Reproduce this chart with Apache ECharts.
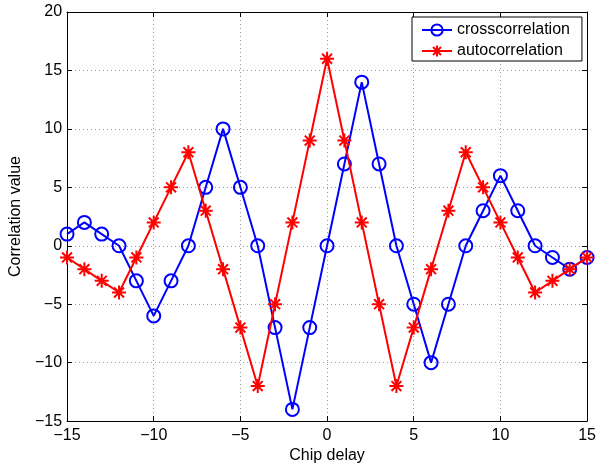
<!DOCTYPE html>
<html><head><meta charset="utf-8">
<script src="https://cdn.jsdelivr.net/npm/echarts@6/dist/echarts.min.js"></script>
<style>html,body{margin:0;padding:0;background:#fff}#c{width:599px;height:469px}</style>
</head><body><div id="c"></div>
<script>
const chipDelay = [-15,-14,-13,-12,-11,-10,-9,-8,-7,-6,-5,-4,-3,-2,-1,0,1,2,3,4,5,6,7,8,9,10,11,12,13,14,15];
const crossCorr = [1,2,1,0,-3,-6,-3,0,5,10,5,0,-7,-14,-7,0,7,14,7,0,-5,-10,-5,0,3,6,3,0,-1,-2,-1];
const autoCorr = [-1,-2,-3,-4,-1,2,5,8,3,-2,-7,-12,-5,2,9,16,9,2,-5,-12,-7,-2,3,8,5,2,-1,-4,-3,-2,-1];
const seriesNames = ['crosscorrelation','autocorrelation'];
const xTicks = {min:-15, max:15, step:5};
const yTicks = {min:-15, max:20, step:5};

const FONT = '"Liberation Sans", Arial, Helvetica, sans-serif';
const fmt = v => String(v).replace('-', '\u2212');
const star = 'path://M0,-1L0,1M-1,0L1,0M-0.7071,-0.7071L0.7071,0.7071M-0.7071,0.7071L0.7071,-0.7071';
const split = {show:true, lineStyle:{color:'#999', type:[1,3], width:1}};
const tick = {show:true, inside:true, length:5, lineStyle:{color:'#000', width:1}};
const axLine = {show:true, onZero:false, lineStyle:{color:'#000', width:1}};
const label = {color:'#000', fontSize:16, fontFamily:FONT, formatter:fmt};

const chart = echarts.init(document.getElementById('c'), null, {renderer:'canvas'});
chart.setOption({
  backgroundColor:'#fff',
  animation:false,
  grid:{left:63, right:10, top:12, bottom:44, containLabel:false},
  xAxis:[
    {type:'value', min:xTicks.min, max:xTicks.max, interval:xTicks.step, position:'bottom',
     axisLine:axLine, axisTick:tick, splitLine:split, axisLabel:Object.assign({margin:6}, label),
     name:'Chip delay', nameLocation:'middle', nameGap:22,
     nameTextStyle:{color:'#000', fontSize:16, fontFamily:FONT}},
    {type:'value', min:xTicks.min, max:xTicks.max, interval:xTicks.step, position:'top',
     axisLine:axLine, axisTick:tick, splitLine:{show:false}, axisLabel:{show:false}}
  ],
  yAxis:[
    {type:'value', min:yTicks.min, max:yTicks.max, interval:yTicks.step, position:'left',
     axisLine:axLine, axisTick:tick, splitLine:split, axisLabel:Object.assign({margin:5}, label),
     name:'Correlation value', nameLocation:'middle', nameGap:33,
     nameTextStyle:{color:'#000', fontSize:16, fontFamily:FONT}},
    {type:'value', min:yTicks.min, max:yTicks.max, interval:yTicks.step, position:'right',
     axisLine:axLine, axisTick:tick, splitLine:{show:false}, axisLabel:{show:false}}
  ],
  legend:{
    left:412, top:17, orient:'vertical',
    backgroundColor:'#fff', borderColor:'#000', borderWidth:1, borderRadius:0,
    padding:[5,12,2,9], itemGap:5, itemWidth:30, itemHeight:14,
    textStyle:{color:'#000', fontSize:16, fontFamily:FONT, lineHeight:14},
    data:seriesNames
  },
  series:[
    {name:seriesNames[0], type:'line', data:chipDelay.map((x,i)=>[x, crossCorr[i]]),
     symbol:'circle', symbolSize:13,
     lineStyle:{color:'#0000ff', width:2},
     itemStyle:{color:'rgba(0,0,0,0)', borderColor:'#0000ff', borderWidth:2},
     z:2},
    {name:seriesNames[1], type:'line', data:chipDelay.map((x,i)=>[x, autoCorr[i]]),
     symbol:star, symbolSize:14,
     lineStyle:{color:'#ff0000', width:2},
     itemStyle:{color:'#ff0000', borderColor:'#ff0000', borderWidth:2},
     z:3}
  ]
});
</script></body></html>
